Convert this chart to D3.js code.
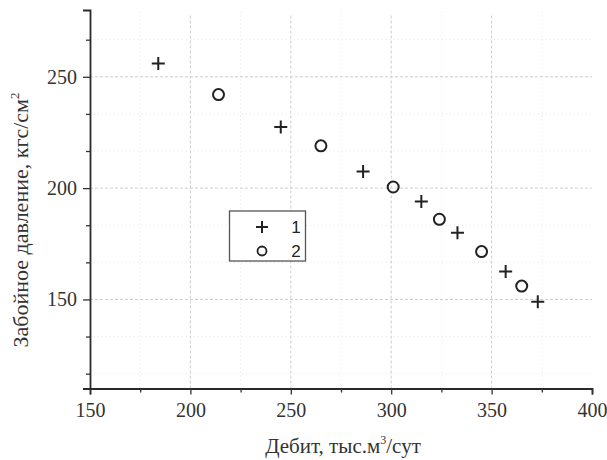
<!DOCTYPE html>
<html><head><meta charset="utf-8">
<script src="https://cdn.jsdelivr.net/npm/d3@7"></script>
<style>body{margin:0;background:#fff}svg{display:block}
text{font-family:'Liberation Serif','Times New Roman',serif}</style>
</head><body><svg id="c" width="607" height="460"></svg>
<script>
const series1X = [184, 245, 286, 315, 333, 357, 373];
const series1Y = [256, 227.5, 207.5, 194, 180, 162.5, 149];
const series2X = [214, 265, 301, 324, 345, 365];
const series2Y = [242, 219, 200.5, 186, 171.5, 156];
const xTicks = [150, 200, 250, 300, 350, 400];
const yTicks = [150, 200, 250];
const legendLabels = ["1", "2"];
const xTitle = "Дебит, тыс.м";
const xTitleSup = "3";
const xTitleEnd = "/сут";
const yTitle = "Забойное давление, кгс/см";
const yTitleSup = "2";

const svg = d3.select("#c");
const x = d3.scaleLinear().domain([150, 400]).range([90, 592]);
const y = d3.scaleLinear().domain([110, 280]).range([388.5, 10]);
const serif = "'Liberation Serif', 'Times New Roman', serif";

// minor grid
const xMinor = d3.range(175, 400, 50);
const yMinor = d3.range(110 + 20/3, 280, 50/3).filter(v => Math.abs((v - 150) % 50) > 1 && Math.abs((v-150)%50) < 49);
svg.append("g").selectAll("line").data(xMinor).join("line")
  .attr("x1", d => x(d)).attr("x2", d => x(d)).attr("y1", y(110)).attr("y2", y(280))
  .attr("stroke", "#e4e4e4").attr("stroke-dasharray", "1,3");
svg.append("g").selectAll("line").data(yMinor).join("line")
  .attr("y1", d => y(d)).attr("y2", d => y(d)).attr("x1", x(150)).attr("x2", x(400))
  .attr("stroke", "#e4e4e4").attr("stroke-dasharray", "1,3");
// major grid
svg.append("g").selectAll("line").data(xTicks.slice(1, -1)).join("line")
  .attr("x1", d => x(d)).attr("x2", d => x(d)).attr("y1", y(110)).attr("y2", y(278))
  .attr("stroke", "#cdcdcd").attr("stroke-dasharray", "3,2");
svg.append("g").selectAll("line").data(yTicks).join("line")
  .attr("y1", d => y(d)).attr("y2", d => y(d)).attr("x1", x(150)).attr("x2", x(400))
  .attr("stroke", "#cdcdcd").attr("stroke-dasharray", "3,2");

// axes
svg.append("g").attr("transform", `translate(0,${y(110)})`)
  .call(d3.axisBottom(x).tickValues(xTicks).tickSize(6).tickPadding(8).tickFormat(d3.format("d")));
svg.append("g").attr("transform", `translate(0,${y(110)})`)
  .call(d3.axisBottom(x).tickValues(xMinor).tickSize(4).tickFormat(""))
  .call(g => g.select(".domain").remove());
svg.append("g").attr("transform", `translate(${x(150)},0)`)
  .call(d3.axisLeft(y).tickValues(yTicks).tickSize(7).tickPadding(6).tickFormat(d3.format("d")));
svg.append("g").attr("transform", `translate(${x(150)},0)`)
  .call(d3.axisLeft(y).tickValues(yMinor).tickSize(4).tickFormat(""))
  .call(g => g.select(".domain").remove());
svg.selectAll(".domain").attr("stroke", "#2a2a2a").attr("stroke-width", 1.8);
svg.selectAll(".tick line").attr("stroke", "#333").attr("stroke-width", 1.3);
svg.selectAll(".tick text").style("font-family", serif).style("font-size", "20px").attr("fill", "#333");

// titles
const xt = svg.append("text").attr("x", 343).attr("y", 453).attr("text-anchor", "middle")
  .style("font-family", serif).style("font-size", "21px").attr("fill", "#333");
xt.append("tspan").text(xTitle);
xt.append("tspan").attr("dy", -9).style("font-size", "12px").text(xTitleSup);
xt.append("tspan").attr("dy", 9).text(xTitleEnd);
const yt = svg.append("text").attr("transform", "translate(28,220) rotate(-90)").attr("text-anchor", "middle")
  .style("font-family", serif).style("font-size", "22px").attr("fill", "#333");
yt.append("tspan").text(yTitle);
yt.append("tspan").attr("dy", -9).style("font-size", "13px").text(yTitleSup);

// markers
const plus = (s) => `M${-s},0H${s}M0,${-s}V${s}`;
const d1 = series1X.map((v, i) => [v, series1Y[i]]);
const d2 = series2X.map((v, i) => [v, series2Y[i]]);
svg.append("g").selectAll("path").data(d1).join("path")
  .attr("transform", d => `translate(${x(d[0])},${y(d[1])})`)
  .attr("d", plus(6.5)).attr("stroke", "#222").attr("stroke-width", 2).attr("fill", "none");
svg.append("g").selectAll("circle").data(d2).join("circle")
  .attr("cx", d => x(d[0])).attr("cy", d => y(d[1])).attr("r", 5.5)
  .attr("stroke", "#222").attr("stroke-width", 2).attr("fill", "none");

// legend
const lg = svg.append("g");
lg.append("rect").attr("x", 229.5).attr("y", 211).attr("width", 76).attr("height", 50)
  .attr("fill", "#fff").attr("stroke", "#555").attr("stroke-width", 1.3);
lg.append("path").attr("transform", "translate(262,227)").attr("d", plus(6))
  .attr("stroke", "#222").attr("stroke-width", 2);
lg.append("circle").attr("cx", 262).attr("cy", 251).attr("r", 4.5)
  .attr("stroke", "#222").attr("stroke-width", 1.8).attr("fill", "none");
lg.selectAll("text").data(legendLabels).join("text")
  .attr("x", 296).attr("y", (d, i) => 233 + i * 24).attr("text-anchor", "middle")
  .style("font-family", "'Liberation Sans', Arial, sans-serif").style("font-size", "17px").attr("fill", "#222")
  .text(d => d);
</script></body></html>
